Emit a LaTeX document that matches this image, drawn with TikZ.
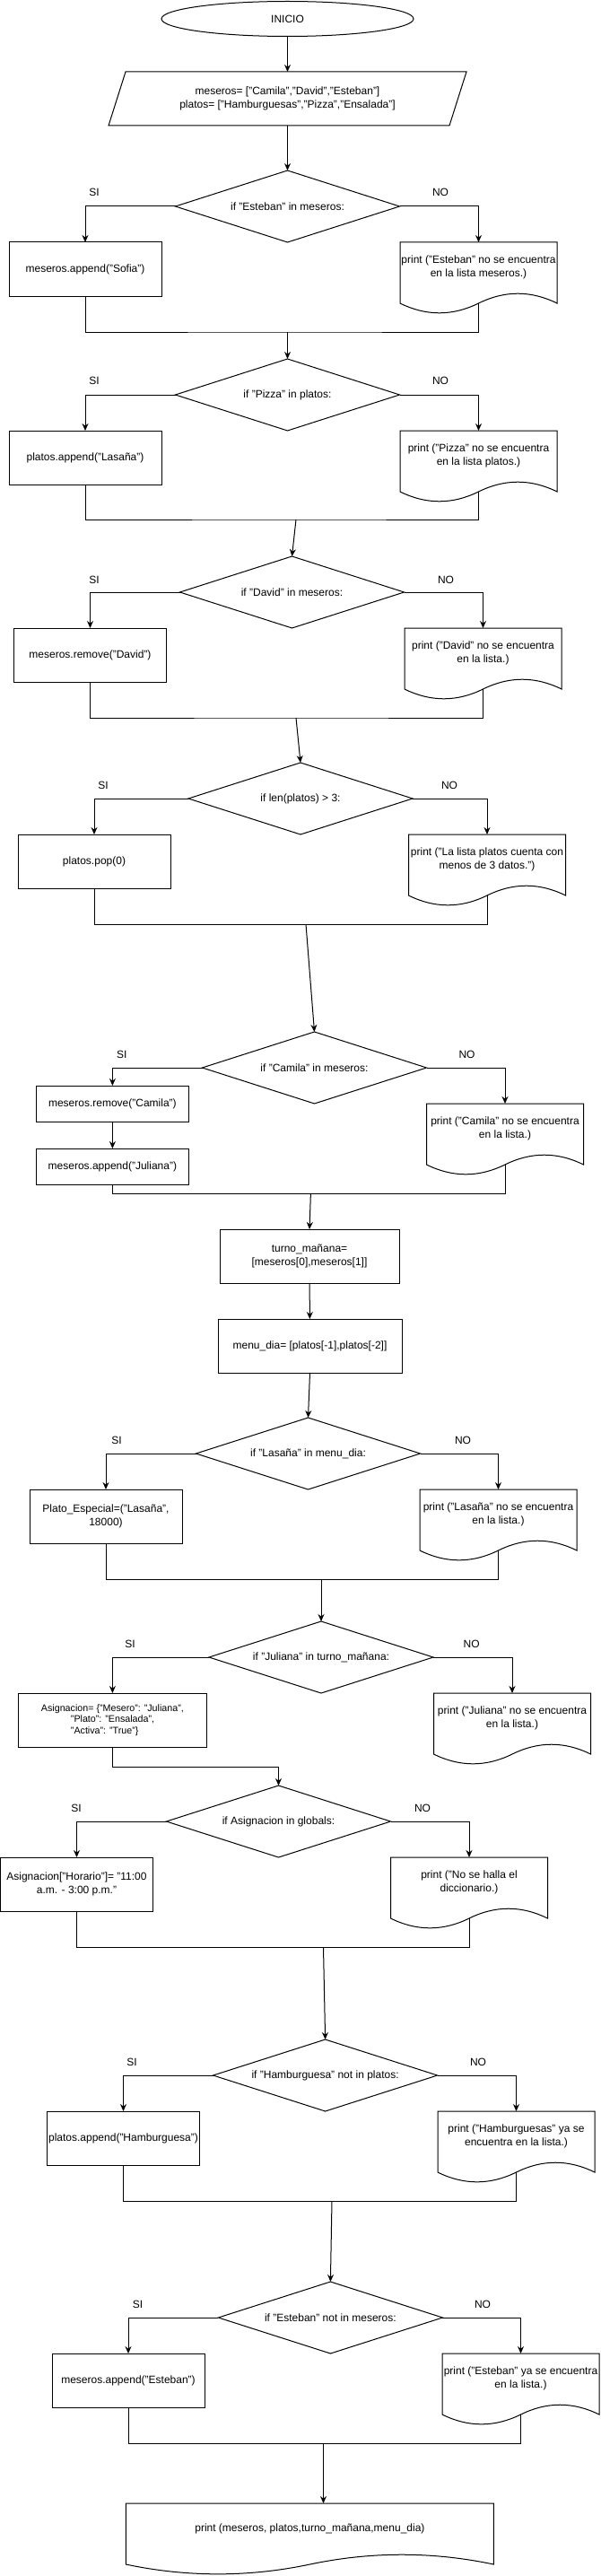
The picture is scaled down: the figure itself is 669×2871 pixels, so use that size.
\documentclass[tikz,border=0pt]{standalone}
\usepackage{fontspec}
\setmainfont{Liberation Sans}
\usetikzlibrary{shapes.geometric, arrows.meta, calc}

\newcommand{\hoja}[1]{%
    \draw (#1.north west) -- (#1.north east) -- ($(#1.south east)+(0,12)$)
        .. controls ($(#1.south west)!.8333!(#1.south east)+(0,-2.4)$) and ($(#1.south west)!.6667!(#1.south east)+(0,-2.4)$) .. ($(#1.south)+(0,12)$)
        .. controls ($(#1.south west)!.3333!(#1.south east)+(0,26.4)$) and ($(#1.south west)!.1667!(#1.south east)+(0,26.4)$) .. ($(#1.south west)+(0,12)$) -- cycle;
    \coordinate (#1-out) at ($(#1.south)+(0,12)$);
}

\begin{document}
\begin{tikzpicture}[x=1pt, y=-1pt, line width=1pt, >={Stealth[length=8pt, width=7pt]},
    every node/.style={font=\fontsize{12}{15.5}\selectfont, inner sep=0pt, outer sep=0pt},
    terminal/.style={draw, ellipse, minimum width=281pt, minimum height=39pt},
    proceso/.style={draw, rectangle, align=center, minimum width=170pt, minimum height=60pt},
    decision/.style={draw, diamond, aspect=3.125, align=center, minimum width=250pt, minimum height=80pt},
    documento/.style={rectangle, align=center, anchor=north, minimum width=175pt, minimum height=56pt}]
    \useasboundingbox (0,0) rectangle (669,2871);

    \node[terminal] (inicio) at (320.5,21) {INICIO};
    \node[minimum width=399pt, minimum height=60pt, align=center] (datos) at (320.5,110)
        {meseros= ["Camila","David","Esteban"]\\platos= ["Hamburguesas","Pizza","Ensalada"]};
    \draw ([xshift=19pt]datos.north west) -- (datos.north east) -- ([xshift=-19pt]datos.south east) -- (datos.south west) -- cycle;
    \draw[->] (inicio) -- (datos.north);

    \node[decision] (d1) at (320.5,230) {if "Esteban" in meseros:};
    \node (si1) at (105,214) {SI};
    \node (no1) at (491,214) {NO};
    \node[proceso] (s1) at (95,300) {meseros.append("Sofia")};
    \node[documento] (n1) at (533.5,270) {print ("Esteban" no se encuentra\\en la lista meseros.)};
    \hoja{n1}
    \coordinate (m1) at (320.5,370);
    \draw[->] (datos.south) -- (d1.north);
    \draw[->] (d1.west) -| (s1.north);
    \draw[->] (d1.east) -| (n1.north);
    \draw (s1.south) |- (m1) -| (n1-out);

    \node[decision] (d2) at (320.5,440) {if "Pizza" in platos:};
    \node (si2) at (105,424) {SI};
    \node (no2) at (491,424) {NO};
    \node[proceso] (s2) at (95,510) {platos.append("Lasaña")};
    \node[documento] (n2) at (533.5,480) {print ("Pizza" no se encuentra\\en la lista platos.)};
    \hoja{n2}
    \coordinate (m2) at (330,579);
    \draw[->] (m1) -- (d2.north);
    \draw[->] (d2.west) -| (s2.north);
    \draw[->] (d2.east) -| (n2.north);
    \draw (s2.south) |- (m2) -| (n2-out);

    \node[decision] (d3) at (325.5,660) {if "David" in meseros:};
    \node (si3) at (105,646) {SI};
    \node (no3) at (497,646) {NO};
    \node[proceso] (s3) at (100.5,730) {meseros.remove("David")};
    \node[documento] (n3) at (538.5,700) {print ("David" no se encuentra\\en la lista.)};
    \hoja{n3}
    \coordinate (m3) at (330,800);
    \draw[->] (m2) -- (d3.north);
    \draw[->] (d3.west) -| (s3.north);
    \draw[->] (d3.east) -| (n3.north);
    \draw (s3.south) |- (m3) -| (n3-out);

    \node[decision] (d4) at (335,890) {if len(platos) > 3:};
    \node (si4) at (115,875) {SI};
    \node (no4) at (501,875) {NO};
    \node[proceso] (s4) at (105,960) {platos.pop(0)};
    \node[documento] (n4) at (543,930) {print ("La lista platos cuenta con\\menos de 3 datos.")};
    \hoja{n4}
    \coordinate (m4) at (341,1030);
    \draw[->] (m3) -- (d4.north);
    \draw[->] (d4.west) -| (s4.north);
    \draw[->] (d4.east) -| (n4.north);
    \draw (s4.south) |- (m4) -| (n4-out);

    \node[decision] (d5) at (350.5,1190) {if "Camila" in meseros:};
    \node (si5) at (135.7,1175) {SI};
    \node (no5) at (520.5,1175) {NO};
    \node[proceso, minimum height=40pt] (s5) at (125.4,1230) {meseros.remove("Camila")};
    \node[proceso, minimum height=40pt] (s5b) at (125.4,1300) {meseros.append("Juliana")};
    \node[documento] (n5) at (563,1230) {print ("Camila" no se encuentra\\en la lista.)};
    \hoja{n5}
    \coordinate (m5) at (346.4,1330);
    \draw[->] (m4) -- (d5.north);
    \draw[->] (d5.west) -| (s5.north);
    \draw[->] (d5.east) -| (n5.north);
    \draw[->] (s5) -- (s5b);
    \draw (s5b.south) |- (m5) -| (n5-out);

    \node[proceso, minimum width=200pt] (t1) at (345,1400) {turno\_mañana=\\{}[meseros[0],meseros[1]]};
    \node[proceso, minimum width=205pt] (t2) at (345.5,1500) {menu\_dia= [platos[-1],platos[-2]]};
    \draw[->] (m5) -- (t1.north);
    \draw[->] (t1) -- (t2);

    \node[decision] (d6) at (343.5,1620) {if "Lasaña" in menu\_dia:};
    \node (si6) at (130,1605) {SI};
    \node (no6) at (516,1605) {NO};
    \node[proceso] (s6) at (118,1690) {Plato\_Especial=("Lasaña",\\18000)};
    \node[documento] (n6) at (555.5,1660) {print ("Lasaña" no se encuentra\\en la lista.)};
    \hoja{n6}
    \coordinate (m6) at (358,1760);
    \draw[->] (t2.south) -- (d6.north);
    \draw[->] (d6.west) -| (s6.north);
    \draw[->] (d6.east) -| (n6.north);
    \draw (s6.south) |- (m6) -| (n6-out);

    \node[decision] (d7) at (358,1847) {if "Juliana" in turno\_mañana:};
    \node (si7) at (145,1832) {SI};
    \node (no7) at (525.6,1832) {NO};
    \node[proceso, minimum width=210pt, align=left, font=\fontsize{10.7}{12.5}\selectfont] (s7) at (125.4,1917)
        {Asignacion= \{"Mesero": "Juliana",\\\hspace*{33pt}"Plato": "Ensalada",\\\hspace*{33pt}"Activa": "True"\}};
    \node[documento] (n7) at (571,1887) {print ("Juliana" no se encuentra\\en la lista.)};
    \hoja{n7}
    \coordinate (m7) at (310.5,1969);
    \draw[->] (m6) -- (d7.north);
    \draw[->] (d7.west) -| (s7.north);
    \draw[->] (d7.east) -| (n7.north);

    \node[decision] (d8) at (310.5,2030) {if Asignacion in globals:};
    \node (si8) at (85,2015) {SI};
    \node (no8) at (471,2015) {NO};
    \node[proceso] (s8) at (85.5,2100) {Asignacion["Horario"]= "11:00\\a.m. - 3:00 p.m."};
    \node[documento] (n8) at (523,2070) {print ("No se halla el\\diccionario.)};
    \hoja{n8}
    \coordinate (m8) at (360.5,2170);
    \draw[->] (s7.south) |- (m7) -- (d8.north);
    \draw[->] (d8.west) -| (s8.north);
    \draw[->] (d8.east) -| (n8.north);
    \draw (s8.south) |- (m8) -| (n8-out);

    \node[decision] (d9) at (362.6,2313) {if "Hamburguesa" not in platos:};
    \node (si9) at (147,2298) {SI};
    \node (no9) at (533,2298) {NO};
    \node[proceso] (s9) at (137.5,2383) {platos.append("Hamburguesa")};
    \node[documento] (n9) at (575.5,2353) {print ("Hamburguesas" ya se\\encuentra en la lista.)};
    \hoja{n9}
    \coordinate (m9) at (370,2453);
    \draw[->] (m8) -- (d9.north);
    \draw[->] (d9.west) -| (s9.north);
    \draw[->] (d9.east) -| (n9.north);
    \draw (s9.south) |- (m9) -| (n9-out);

    \node[decision] (d10) at (368.4,2583) {if "Esteban" not in meseros:};
    \node (si10) at (153.6,2568) {SI};
    \node (no10) at (538,2568) {NO};
    \node[proceso] (s10) at (143,2653) {meseros.append("Esteban")};
    \node[documento] (n10) at (580.5,2623) {print ("Esteban" ya se encuentra\\en la lista.)};
    \hoja{n10}
    \coordinate (m10) at (360.5,2723);
    \draw[->] (m9) -- (d10.north);
    \draw[->] (d10.west) -| (s10.north);
    \draw[->] (d10.east) -| (n10.north);
    \draw (s10.south) |- (m10) -| (n10-out);

    \node[documento, minimum width=410pt] (fin) at (345.4,2790) {print (meseros, platos,turno\_mañana,menu\_dia)};
    \hoja{fin}
    \draw[->] (m10) -- (m10 |- fin.north);
\end{tikzpicture}
\end{document}
